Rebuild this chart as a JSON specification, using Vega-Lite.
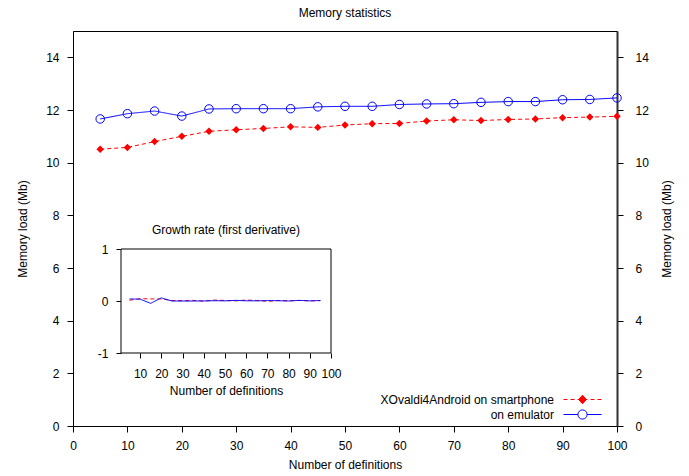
{
  "$schema": "https://vega.github.io/schema/vega-lite/v6.json",
  "width": 544,
  "height": 395,
  "autosize": {"type": "none"},
  "padding": {"left": 73, "top": 31, "right": 72, "bottom": 50},
  "background": "#ffffff",
  "title": {"text": "Memory statistics", "fontSize": 12, "fontWeight": "normal", "font": "Liberation Sans", "color": "#000", "baseline": "alphabetic", "offset": 2, "frame": "group", "anchor": "middle"},
  "datasets": {
    "main": [
      {"x": 5, "series": "smartphone", "value": 10.51}, {"x": 5, "series": "emulator", "value": 11.66},
      {"x": 10, "series": "smartphone", "value": 10.58}, {"x": 10, "series": "emulator", "value": 11.86},
      {"x": 15, "series": "smartphone", "value": 10.80}, {"x": 15, "series": "emulator", "value": 11.96},
      {"x": 20, "series": "smartphone", "value": 11.00}, {"x": 20, "series": "emulator", "value": 11.77},
      {"x": 25, "series": "smartphone", "value": 11.19}, {"x": 25, "series": "emulator", "value": 12.04},
      {"x": 30, "series": "smartphone", "value": 11.25}, {"x": 30, "series": "emulator", "value": 12.05},
      {"x": 35, "series": "smartphone", "value": 11.30}, {"x": 35, "series": "emulator", "value": 12.05},
      {"x": 40, "series": "smartphone", "value": 11.36}, {"x": 40, "series": "emulator", "value": 12.05},
      {"x": 45, "series": "smartphone", "value": 11.34}, {"x": 45, "series": "emulator", "value": 12.12},
      {"x": 50, "series": "smartphone", "value": 11.43}, {"x": 50, "series": "emulator", "value": 12.14},
      {"x": 55, "series": "smartphone", "value": 11.48}, {"x": 55, "series": "emulator", "value": 12.14},
      {"x": 60, "series": "smartphone", "value": 11.49}, {"x": 60, "series": "emulator", "value": 12.21},
      {"x": 65, "series": "smartphone", "value": 11.58}, {"x": 65, "series": "emulator", "value": 12.23},
      {"x": 70, "series": "smartphone", "value": 11.63}, {"x": 70, "series": "emulator", "value": 12.24},
      {"x": 75, "series": "smartphone", "value": 11.60}, {"x": 75, "series": "emulator", "value": 12.29},
      {"x": 80, "series": "smartphone", "value": 11.64}, {"x": 80, "series": "emulator", "value": 12.32},
      {"x": 85, "series": "smartphone", "value": 11.66}, {"x": 85, "series": "emulator", "value": 12.32},
      {"x": 90, "series": "smartphone", "value": 11.71}, {"x": 90, "series": "emulator", "value": 12.39},
      {"x": 95, "series": "smartphone", "value": 11.73}, {"x": 95, "series": "emulator", "value": 12.40},
      {"x": 100, "series": "smartphone", "value": 11.76}, {"x": 100, "series": "emulator", "value": 12.46}
    ],
    "deriv": [
      {"x": 5, "series": "smartphone", "value": 0.015}, {"x": 5, "series": "emulator", "value": 0.04},
      {"x": 10, "series": "smartphone", "value": 0.045}, {"x": 10, "series": "emulator", "value": 0.035},
      {"x": 15, "series": "smartphone", "value": 0.04}, {"x": 15, "series": "emulator", "value": -0.045},
      {"x": 20, "series": "smartphone", "value": 0.04}, {"x": 20, "series": "emulator", "value": 0.06},
      {"x": 25, "series": "smartphone", "value": 0.01}, {"x": 25, "series": "emulator", "value": 0.0},
      {"x": 30, "series": "smartphone", "value": 0.008}, {"x": 30, "series": "emulator", "value": 0.0},
      {"x": 35, "series": "smartphone", "value": 0.012}, {"x": 35, "series": "emulator", "value": 0.0},
      {"x": 40, "series": "smartphone", "value": -0.004}, {"x": 40, "series": "emulator", "value": 0.002},
      {"x": 45, "series": "smartphone", "value": 0.018}, {"x": 45, "series": "emulator", "value": 0.005},
      {"x": 50, "series": "smartphone", "value": 0.01}, {"x": 50, "series": "emulator", "value": 0.003},
      {"x": 55, "series": "smartphone", "value": 0.002}, {"x": 55, "series": "emulator", "value": 0.012},
      {"x": 60, "series": "smartphone", "value": 0.018}, {"x": 60, "series": "emulator", "value": 0.004},
      {"x": 65, "series": "smartphone", "value": 0.01}, {"x": 65, "series": "emulator", "value": 0.003},
      {"x": 70, "series": "smartphone", "value": -0.006}, {"x": 70, "series": "emulator", "value": 0.008},
      {"x": 75, "series": "smartphone", "value": 0.008}, {"x": 75, "series": "emulator", "value": 0.006},
      {"x": 80, "series": "smartphone", "value": 0.004}, {"x": 80, "series": "emulator", "value": 0.0},
      {"x": 85, "series": "smartphone", "value": 0.01}, {"x": 85, "series": "emulator", "value": 0.012},
      {"x": 90, "series": "smartphone", "value": 0.004}, {"x": 90, "series": "emulator", "value": 0.002},
      {"x": 95, "series": "smartphone", "value": 0.006}, {"x": 95, "series": "emulator", "value": 0.01}
    ]
  },
  "layer": [
    {
      "layer": [
        {
          "data": {"name": "main"},
          "mark": {"type": "line", "strokeWidth": 1},
          "encoding": {
            "x": {"field": "x", "type": "quantitative", "scale": {"domain": [0, 100], "nice": false, "zero": false},
              "axis": {"values": [0, 10, 20, 30, 40, 50, 60, 70, 80, 90, 100], "title": "Number of definitions", "labelPadding": 8, "titlePadding": 8, "labelFlush": false, "labelOverlap": false}},
            "y": {"field": "value", "type": "quantitative", "scale": {"domain": [0, 15], "nice": false},
              "axis": {"values": [0, 2, 4, 6, 8, 10, 12, 14], "title": "Memory load (Mb)", "labelPadding": 8, "titlePadding": 16, "labelFlush": false, "labelOverlap": false}},
            "color": {"field": "series", "type": "nominal", "scale": {"domain": ["smartphone", "emulator"], "range": ["#ff0000", "#0000ff"]}, "legend": null},
            "strokeDash": {"field": "series", "type": "nominal", "scale": {"domain": ["smartphone", "emulator"], "range": [[4, 3], [1, 0]]}, "legend": null}
          }
        },
        {
          "data": {"name": "main"},
          "transform": [{"filter": "datum.series == 'smartphone'"}],
          "mark": {"type": "point", "shape": "diamond", "filled": true, "color": "#ff0000", "size": 56, "opacity": 1},
          "encoding": {
            "x": {"field": "x", "type": "quantitative"},
            "y": {"field": "value", "type": "quantitative"}
          }
        },
        {
          "data": {"name": "main"},
          "transform": [{"filter": "datum.series == 'emulator'"}],
          "mark": {"type": "point", "shape": "circle", "filled": false, "color": "#0000ff", "size": 72, "strokeWidth": 1, "opacity": 1},
          "encoding": {
            "x": {"field": "x", "type": "quantitative"},
            "y": {"field": "value", "type": "quantitative"}
          }
        },
        {
          "data": {"values": [{"label": "XOvaldi4Android on smartphone", "x": -50, "value": 5}, {"label": "on emulator", "x": -50, "value": 5}]},
          "mark": {"type": "point", "clip": true, "opacity": 1, "strokeWidth": 1},
          "encoding": {
            "x": {"field": "x", "type": "quantitative"},
            "y": {"field": "value", "type": "quantitative"},
            "shape": {"field": "label", "type": "nominal",
              "scale": {"domain": ["XOvaldi4Android on smartphone", "on emulator"], "range": ["M-2.714,0H-2.143M-1.714,0H-1.143M-0.714,0H0.714M1.143,0H1.714M2.143,0H2.714M0,-0.62L0.55,0L0,0.62L-0.55,0Z", "M-2.714,0H-0.657M0.657,0H2.714M-0.657,0A0.657,0.657,0,1,1,0.657,0A0.657,0.657,0,1,1,-0.657,0"]},
              "legend": {"title": null, "orient": "none", "legendX": 502, "legendY": 361, "direction": "vertical", "symbolSize": 196, "symbolStrokeWidth": 1, "symbolOpacity": 1, "labelAlign": "right", "labelOffset": -36, "labelFontSize": 12, "labelFont": "Liberation Sans", "labelColor": "#000", "rowPadding": 1, "padding": 0, "labelLimit": 300}},
            "stroke": {"field": "label", "type": "nominal",
              "scale": {"domain": ["XOvaldi4Android on smartphone", "on emulator"], "range": ["#ff0000", "#0000ff"]},
              "legend": {"title": null, "orient": "none", "legendX": 502, "legendY": 361, "direction": "vertical", "symbolSize": 196, "symbolStrokeWidth": 1, "symbolOpacity": 1, "labelAlign": "right", "labelOffset": -36, "labelFontSize": 12, "labelFont": "Liberation Sans", "labelColor": "#000", "rowPadding": 1, "padding": 0, "labelLimit": 300}},
            "fill": {"field": "label", "type": "nominal",
              "scale": {"domain": ["XOvaldi4Android on smartphone", "on emulator"], "range": ["#ff0000", "transparent"]},
              "legend": {"title": null, "orient": "none", "legendX": 502, "legendY": 361, "direction": "vertical", "symbolSize": 196, "symbolStrokeWidth": 1, "symbolOpacity": 1, "labelAlign": "right", "labelOffset": -36, "labelFontSize": 12, "labelFont": "Liberation Sans", "labelColor": "#000", "rowPadding": 1, "padding": 0, "labelLimit": 300}}
          }
        }
      ]
    },
    {
      "data": {"values": [{}]},
      "mark": {"type": "rule", "opacity": 0},
      "encoding": {
        "y": {"datum": 0, "type": "quantitative", "scale": {"domain": [0, 15], "nice": false},
          "axis": {"orient": "right", "values": [0, 2, 4, 6, 8, 10, 12, 14], "title": "Memory load (Mb)", "titleAngle": 270, "titleBaseline": "top", "titlePadding": 13, "labelPadding": 12, "domainColor": "#333333", "domainWidth": 2, "labelFlush": false, "labelOverlap": false}}
      }
    },
    {
      "layer": [
        {
          "data": {"values": [{}]},
          "mark": {"type": "rect", "fill": "#ffffff", "stroke": "#000000", "strokeWidth": 1},
          "encoding": {
            "x": {"datum": 1, "type": "quantitative", "scale": {"domain": [1, 100], "range": [48, 258], "nice": false, "zero": false},
              "axis": {"orient": "bottom", "offset": -73, "values": [10, 20, 30, 40, 50, 60, 70, 80, 90, 100], "title": "Number of definitions", "titlePadding": 6, "labelPadding": 10, "tickSize": 5, "domain": false, "labelFlush": false, "labelOverlap": false}},
            "x2": {"datum": 100},
            "y": {"datum": -1, "type": "quantitative", "scale": {"domain": [-1, 1], "range": [322, 218], "nice": false, "zero": false},
              "axis": {"orient": "left", "offset": -48, "values": [-1, 0, 1], "labelExpr": "'' + datum.value", "title": null, "labelPadding": 8, "tickSize": 5, "domain": false, "labelFlush": false, "labelOverlap": false}},
            "y2": {"datum": 1}
          }
        },
        {
          "data": {"name": "deriv"},
          "mark": {"type": "line", "strokeWidth": 1},
          "encoding": {
            "x": {"field": "x", "type": "quantitative"},
            "y": {"field": "value", "type": "quantitative"},
            "color": {"field": "series", "type": "nominal", "legend": null},
            "strokeDash": {"field": "series", "type": "nominal", "legend": null}
          }
        },
        {
          "data": {"values": [{}]},
          "mark": {"type": "text", "text": "Growth rate (first derivative)", "baseline": "alphabetic", "align": "center", "fontSize": 12, "font": "Liberation Sans", "color": "#000"},
          "encoding": {
            "x": {"datum": 50.5, "type": "quantitative"},
            "y": {"datum": 1.29, "type": "quantitative"}
          }
        }
      ]
    }
  ],
  "resolve": {"scale": {"x": "independent", "y": "independent"}},
  "config": {
    "font": "Liberation Sans",
    "view": {"stroke": "#000000", "strokeWidth": 1},
    "axis": {"grid": false, "domainColor": "#000", "tickColor": "#000", "labelColor": "#000", "titleColor": "#000", "labelFontSize": 12, "titleFontSize": 12, "titleFontWeight": "normal", "tickSize": 6, "labelFont": "Liberation Sans", "titleFont": "Liberation Sans"}
  }
}
